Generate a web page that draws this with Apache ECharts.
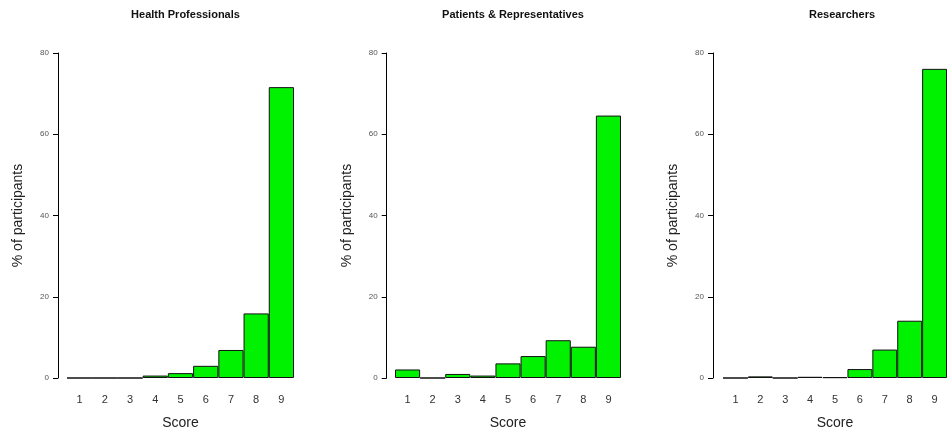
<!DOCTYPE html>
<html>
<head>
<meta charset="utf-8">
<script src="https://cdn.jsdelivr.net/npm/echarts@6/dist/echarts.min.js"></script>
<style>html,body{margin:0;padding:0;background:#fff;}#c{width:947px;height:435px;}</style>
</head>
<body>
<div id="c"></div>
<script>
const scores = ['1','2','3','4','5','6','7','8','9'];
const panelTitles = ['Health Professionals','Patients & Representatives','Researchers'];
const healthProfessionals = [0, 0, 0, 0.6, 1.2, 3.0, 6.9, 15.9, 71.6];
const patientsRepresentatives = [2.1, 0, 1.0, 0.6, 3.6, 5.4, 9.3, 7.7, 64.6];
const researchers = [0, 0.4, 0, 0.3, 0.2, 2.2, 7.0, 14.1, 76.1];
const yTicks = [0, 20, 40, 60, 80];

const seriesData = [healthProfessionals, patientsRepresentatives, researchers];
const gridLefts = [67, 395, 723];
const axisOffsets = [9, 8.3, 10];
const gridWidths = [227, 226, 228];

const chart = echarts.init(document.getElementById('c'));
const grids = [], xAxes = [], yAxes = [], series = [], titles = [];
for (let i = 0; i < 3; i++) {
  grids.push({left: gridLefts[i], top: 53, width: gridWidths[i], height: 328, containLabel: false});
  titles.push({
    text: panelTitles[i], left: gridLefts[i] + gridWidths[i] / 2, top: 4, textAlign: 'center',
    textStyle: {fontFamily: 'Liberation Sans', fontSize: 11, fontWeight: 'bold', color: '#111'}
  });
  xAxes.push({
    type: 'category', gridIndex: i, data: scores,
    axisLine: {show: false}, axisTick: {show: false},
    axisLabel: {margin: 16, fontFamily: 'Liberation Sans', fontSize: 11, color: '#333'},
    name: 'Score', nameLocation: 'middle', nameGap: 38,
    nameTextStyle: {fontFamily: 'Liberation Sans', fontSize: 14, color: '#222'}
  });
  yAxes.push({
    type: 'value', gridIndex: i, min: 0, max: 80, interval: 20, offset: axisOffsets[i],
    axisLine: {show: true, lineStyle: {color: '#000', width: 1}},
    axisTick: {show: true, length: 5, lineStyle: {color: '#000'}},
    splitLine: {show: false},
    axisLabel: {margin: 9, fontFamily: 'Liberation Sans', fontSize: 8, color: '#555',
      formatter: v => yTicks.includes(v) ? String(v) : ''},
    name: '% of participants', nameLocation: 'middle', nameGap: 33,
    nameTextStyle: {fontFamily: 'Liberation Sans', fontSize: 14, color: '#222'}
  });
  series.push({
    type: 'bar', xAxisIndex: i, yAxisIndex: i, data: seriesData[i],
    barCategoryGap: '0%', silent: true,
    itemStyle: {color: '#00f200', borderColor: '#111', borderWidth: 1}
  });
}
chart.setOption({
  animation: false,
  title: titles,
  grid: grids, xAxis: xAxes, yAxis: yAxes, series: series
});
</script>
</body>
</html>
